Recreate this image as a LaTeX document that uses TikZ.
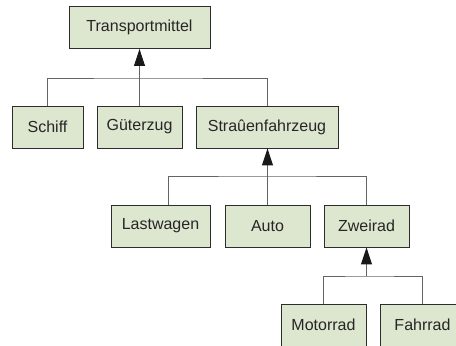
\documentclass[tikz,border=0pt]{standalone}
\usepackage{fontspec}
\setmainfont{Liberation Sans}
\usetikzlibrary{arrows.meta}
\definecolor{boxfill}{RGB}{221,230,206}
\definecolor{boxline}{RGB}{45,45,45}
\definecolor{connline}{RGB}{100,100,100}
\tikzset{
  klasse/.style={draw=boxline,fill=boxfill,line width=0.9pt,minimum height=42pt,
    inner sep=0pt,text=black!85,font=\fontsize{16}{19}\selectfont},
  conn/.style={draw=connline,line width=1pt},
  erbt/.style={conn,-{Triangle[length=17pt,width=11pt,color=black!90]}}
}
\begin{document}
\begin{tikzpicture}[x=1pt,y=1pt]
\useasboundingbox (0,0) rectangle (456,-346);
\clip (0,0) rectangle (456,-346);
% oberste Ebene
\node[klasse,minimum width=141pt] (transport) at (139.5,-27.5) {Transportmittel};
\node[klasse,minimum width=71pt] (schiff) at (47.5,-127) {Schiff};
\node[klasse,minimum width=85pt] (gueter) at (139.5,-127) {Güterzug};
\node[klasse,minimum width=142pt] (strasse) at (267,-127) {Straûenfahrzeug};
\coordinate (bar1) at (139.5,-78);
\draw[conn] (schiff.north) |- (bar1) -| (strasse.north);
\draw[erbt] (gueter.north) -- (transport.south);
% Strassenfahrzeuge
\node[klasse,minimum width=99pt] (last) at (160.5,-226) {Lastwagen};
\node[klasse,minimum width=85pt] (auto) at (267.5,-226) {Auto};
\node[klasse,minimum width=85pt] (zwei) at (366.5,-226) {Zweirad};
\coordinate (bar2) at (267.5,-176);
\draw[conn] ([xshift=7.5pt]last.north) |- (bar2) -| (zwei.north);
\draw[erbt] (auto.north) -- (auto.north |- strasse.south);
% Zweiraeder
\node[klasse,minimum width=85pt] (motor) at (323.5,-325) {Motorrad};
\node[klasse,minimum width=85pt] (fahr) at (422.5,-325) {Fahrrad};
\coordinate (bar3) at (366.5,-276);
\draw[conn] (motor.north) |- (bar3) -| (fahr.north);
\draw[erbt] (bar3) -- (zwei.south);
\end{tikzpicture}
\end{document}
